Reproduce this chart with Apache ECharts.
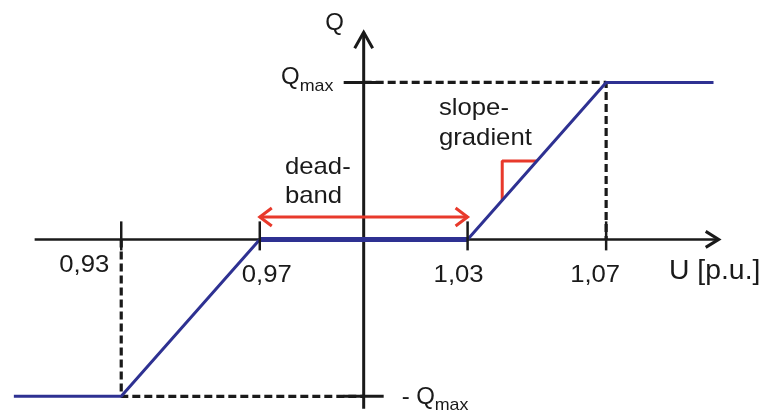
<!DOCTYPE html>
<html>
<head>
<meta charset="utf-8">
<script src="https://cdn.jsdelivr.net/npm/echarts@6/dist/echarts.min.js"></script>
<style>
  html, body { margin: 0; padding: 0; background: #ffffff; }
  #chart { width: 764px; height: 412px; }
</style>
</head>
<body>
<div id="chart"></div>
<script>
// ---- data ----
const uPoints = [0.899, 0.93, 0.97, 1.03, 1.07, 1.101];   // U [p.u.]
const qPoints = [-1, -1, 0, 0, 1, 1];                     // Q (in units of Qmax)
const tickValues = [0.93, 0.97, 1.03, 1.07];
const tickLabels = ['0,93', '0,97', '1,03', '1,07'];
const qMax = 1;
const uNominal = 1.0;
const deadband = [0.97, 1.03];
const deadbandArrowQ = 0.143;
const triangleU = [1.04, 1.04, 1.05];
const triangleQ = [0.25, 0.5, 0.5];

// ---- styles ----
const BLUE = '#2e3192';
const RED = '#e8392b';
const INK = '#1a1a1a';
const FONT = '"Liberation Sans", Arial, Helvetica, sans-serif';

const chart = echarts.init(document.getElementById('chart'), null, { renderer: 'canvas' });

function pairs(xs, ys) { return xs.map((x, i) => [x, ys[i]]); }

const lowerGuide = [[tickValues[0], 0], [tickValues[0], -qMax], [uNominal, -qMax]];
const upperGuide = [[uNominal, qMax], [tickValues[3], qMax], [tickValues[3], 0]];

const dashStyle = { color: INK, width: 3.2, type: [8, 4] };

chart.setOption({
  animation: false,
  backgroundColor: '#ffffff',
  grid: { left: 0, right: 2, top: 4, bottom: 0 },
  xAxis: { type: 'value', min: 0.895, max: 1.115, show: false },
  yAxis: { type: 'value', min: -1.1, max: 1.5, show: false },
  series: [
    { type: 'line', data: lowerGuide, symbol: 'none', lineStyle: dashStyle, z: 3, clip: false, silent: true },
    { type: 'line', data: upperGuide, symbol: 'none', lineStyle: dashStyle, z: 3, clip: false, silent: true },
    { type: 'line', data: pairs(uPoints, qPoints), symbol: 'none',
      lineStyle: { color: BLUE, width: 3 }, z: 6, clip: false, silent: true },
    { type: 'line', data: [[deadband[0], 0], [deadband[1], 0]], symbol: 'none',
      lineStyle: { color: BLUE, width: 5 }, z: 6, clip: false, silent: true },
    { type: 'line', data: pairs(triangleU, triangleQ), symbol: 'none',
      lineStyle: { color: RED, width: 3 }, z: 5, clip: false, silent: true },
    { type: 'line', data: [[deadband[0], deadbandArrowQ], [deadband[1], deadbandArrowQ]], symbol: 'none',
      lineStyle: { color: RED, width: 3 }, z: 5, clip: false, silent: true }
  ]
});

function px(u, q) { return chart.convertToPixel({ gridIndex: 0 }, [u, q]); }

const origin = px(uNominal, 0);
const xStart = px(0.905, 0), xEnd = px(1.1025, 0);
const yBottom = px(uNominal, -1.08), yTop = px(uNominal, 1.32);
const pMax = px(uNominal, qMax), pMin = px(uNominal, -qMax);

const g = [];
function line(a, b, color, w, z) {
  g.push({ type: 'line', shape: { x1: a[0], y1: a[1], x2: b[0], y2: b[1] },
    style: { stroke: color, lineWidth: w }, z: z || 1, silent: true });
}
function poly(points, color, w, z) {
  g.push({ type: 'polyline', shape: { points: points },
    style: { stroke: color, lineWidth: w, fill: null, lineJoin: 'miter' }, z: z || 1, silent: true });
}
function text(str, x, y, size, align, sx) {
  g.push({ type: 'text', x: x, y: y, scaleX: sx || 1.07, silent: true, z: 10,
    style: { text: str, fill: INK, font: size + 'px ' + FONT, align: align || 'left', verticalAlign: 'middle' } });
}

// axes
line(xStart, xEnd, INK, 2.5, 1);
poly([[xEnd[0] - 13, xEnd[1] - 8], [xEnd[0], xEnd[1]], [xEnd[0] - 13, xEnd[1] + 8]], INK, 3, 1);
line(yBottom, yTop, INK, 3, 1);
poly([[yTop[0] - 9, yTop[1] + 16], [yTop[0], yTop[1]], [yTop[0] + 9, yTop[1] + 16]], INK, 3, 1);

// x ticks + labels
const labelOffsets = [[-37, 26], [7, 36], [-9, 36], [-11, 36]];
tickValues.forEach((u, i) => {
  const p = px(u, 0);
  line([p[0], p[1] - 18], [p[0], p[1] + 11], INK, 2.5, 8);
  text(tickLabels[i], p[0] + labelOffsets[i][0], p[1] + labelOffsets[i][1], 24, 'center');
});

// y ticks
line([pMax[0] - 20, pMax[1]], [pMax[0] + 18, pMax[1]], INK, 3, 8);
line([pMin[0] - 20, pMin[1]], [pMin[0] + 20, pMin[1]], INK, 3, 8);

// axis titles
text('Q', origin[0] - 29, yTop[1] - 9, 24, 'center', 1.0);
text('U [p.u.]', 669, origin[1] + 32, 27, 'left', 1.05);

// Qmax labels
text('Q', pMax[0] - 64, pMax[1] - 5, 24, 'right', 1.0);
text('max', pMax[0] - 64, pMax[1] + 4, 17, 'left', 1.05);
text('- Q', pMin[0] + 38, pMin[1] + 1, 24, 'left', 1.0);
text('max', pMin[0] + 71, pMin[1] + 9, 17, 'left', 1.05);

// deadband annotation
const aL = px(deadband[0], deadbandArrowQ), aR = px(deadband[1], deadbandArrowQ);
poly([[aL[0] + 12, aL[1] - 9], [aL[0], aL[1]], [aL[0] + 12, aL[1] + 9]], RED, 3, 7);
poly([[aR[0] - 12, aR[1] - 9], [aR[0], aR[1]], [aR[0] - 12, aR[1] + 9]], RED, 3, 7);
text('dead-', 285, 167.5, 24, 'left');
text('band', 285, 196.5, 24, 'left');

// slope annotation
text('slope-', 439, 108.5, 24, 'left');
text('gradient', 439, 138.5, 24, 'left');

chart.setOption({ graphic: { elements: g } });
</script>
</body>
</html>
